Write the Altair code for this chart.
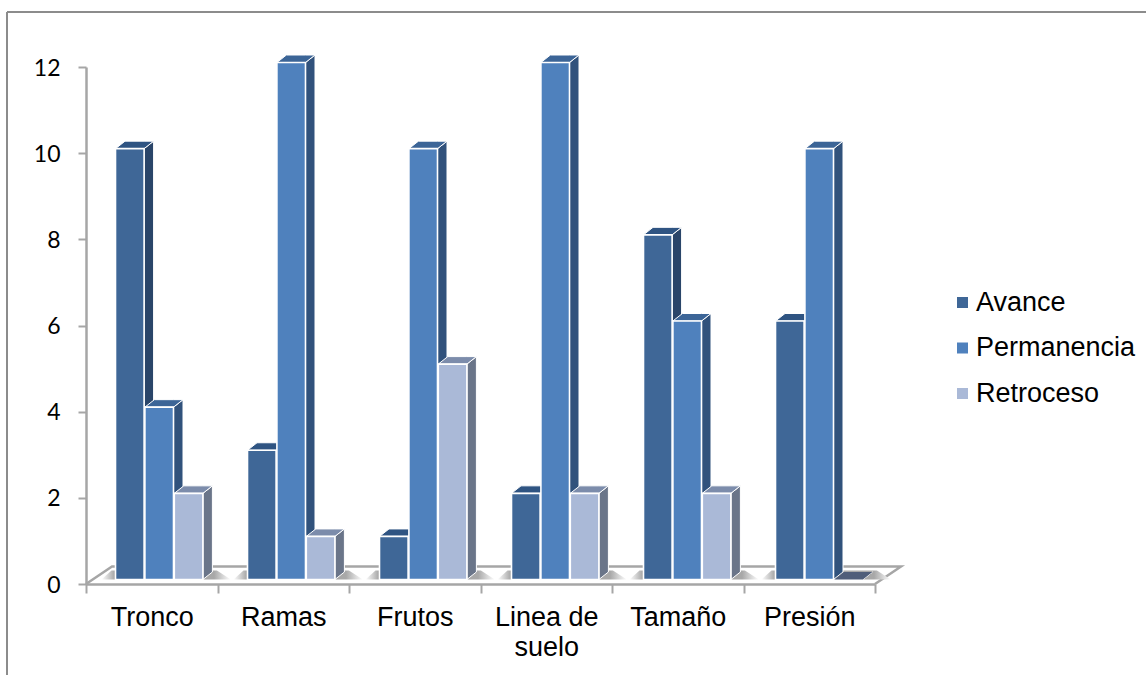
import altair as alt
import pandas as pd

CATEGORIES = ["Tronco", "Ramas", "Frutos", "Linea de suelo", "Tamaño", "Presión"]
SERIES = ["Avance", "Permanencia", "Retroceso"]
AVANCE = [10, 3, 1, 2, 8, 6]
PERMANENCIA = [4, 12, 10, 12, 6, 10]
RETROCESO = [2, 1, 5, 2, 2, 0]
VALUES = [AVANCE, PERMANENCIA, RETROCESO]

FRONT_COLORS = ["#3F6797", "#4F81BD", "#AAB9D7"]
SIDE_COLORS = ["#2A4569", "#31527C", "#6A7589"]
TOP_COLORS = ["#2F5482", "#3C6597", "#7C8CAB"]
EMPTY_BAR_COLOR = "#505E7A"

AXIS_GRAY = "#A6A6A6"
FONT = "Liberation Sans"
NUM_FONT = "Lato"

# Plot-area geometry, and the oblique projection expressed in scale units.
PLOT_W, PLOT_H = 789, 517
PAD = dict(left=86, top=67, right=1146 - 86 - 789, bottom=675 - 67 - 517)
UX, UY = PLOT_W / 6, PLOT_H / 12
BASE = 4.5 / UY            # bars stand slightly behind the axis plane
DX, DY = 9.5 / UX, 7.5 / UY
FLOOR_DX, FLOOR_DY = 26 / UX, 17.5 / UY
GROUP_STEP, FIRST = 132 / UX, 29.5 / UX
BAR_STEP, BAR_W = 29.4 / UX, 28.6 / UX


def bar_span(i, j):
    x0 = i * GROUP_STEP + FIRST + j * BAR_STEP
    return x0, x0 + BAR_W


def front_rows(j):
    rows = []
    for i, cat in enumerate(CATEGORIES):
        x0, x1 = bar_span(i, j)
        v = VALUES[j][i] + BASE
        rows.append(dict(cat=cat, series=SERIES[j], x=x0, x2=x1, y=BASE, y2=v))
    return pd.DataFrame(rows)


def side_rows(j):
    rows = []
    for i, cat in enumerate(CATEGORIES):
        x0, x1 = bar_span(i, j)
        v = VALUES[j][i] + BASE
        rows.append(dict(cat=cat, x=x1, y=BASE, y2=v))
        rows.append(dict(cat=cat, x=x1 + DX, y=BASE + DY, y2=v + DY))
    return pd.DataFrame(rows)


def top_rows(j, empty=False):
    rows = []
    for i, cat in enumerate(CATEGORIES):
        if (VALUES[j][i] == 0) != empty:
            continue
        x0, x1 = bar_span(i, j)
        v = VALUES[j][i] + BASE
        rows.append(dict(cat=cat, x=x0, y=v, y2=v))
        rows.append(dict(cat=cat, x=x0 + DX, y=v, y2=v + DY))
        rows.append(dict(cat=cat, x=x1, y=v, y2=v + DY))
        rows.append(dict(cat=cat, x=x1 + DX, y=v + DY, y2=v + DY))
    return pd.DataFrame(rows, columns=["cat", "x", "y", "y2"])


def shadow_rows():
    rows = []
    for i, cat in enumerate(CATEGORIES):
        x0, _ = bar_span(i, 0)
        _, x1 = bar_span(i, 2)
        h = BASE + 9 / UY
        rows.append(dict(cat=cat, x=x0 - 14 / UX, y=BASE, y2=BASE))
        rows.append(dict(cat=cat, x=x0 - 4 / UX, y=BASE, y2=h))
        rows.append(dict(cat=cat, x=x1 + 14 / UX, y=BASE, y2=h))
        rows.append(dict(cat=cat, x=x1 + 28 / UX, y=BASE, y2=BASE))
    return pd.DataFrame(rows)


y_axis = alt.Axis(
    title=None,
    values=[0, 2, 4, 6, 8, 10, 12],
    labelFont=NUM_FONT,
    labelFontSize=23,
    labelColor="#000000",
    labelPadding=18,
    labelOffset=1,
    domainColor=AXIS_GRAY,
    domainWidth=2.5,
    tickColor=AXIS_GRAY,
    tickWidth=2,
    tickSize=8,
    grid=False,
)
y_scale = alt.Scale(domain=[0, 12], nice=False)

x_q = alt.X("x:Q", scale=alt.Scale(domain=[0, 6], nice=False, zero=False), axis=None)
y_q = alt.Y("y:Q", scale=y_scale, axis=y_axis, stack=None)

# Band scale that carries the category axis with ticks at the band edges.
axis_layer = (
    alt.Chart(pd.DataFrame({"cat": CATEGORIES, "y": [0] * 6}))
    .mark_tick(opacity=0)
    .encode(
        x=alt.X(
            "cat:N",
            sort=CATEGORIES,
            title=None,
            scale=alt.Scale(paddingInner=0, paddingOuter=0),
            axis=alt.Axis(
                tickBand="extent",
                labelAngle=0,
                labelFont=FONT,
                labelFontSize=27,
                labelColor="#000000",
                labelPadding=11,
                labelLineHeight=30,
                labelExpr="datum.label == 'Linea de suelo' ? ['Linea de', 'suelo'] : datum.label",
                domainColor=AXIS_GRAY,
                domainWidth=2.5,
                tickColor=AXIS_GRAY,
                tickWidth=2,
                tickSize=9,
                grid=False,
            ),
        ),
        y=y_q,
    )
)

# Outer frame of the figure, open on the right and at the bottom.
frame_top = alt.Chart(pd.DataFrame({"a": [0]})).mark_rule(color="#8C8C8C", strokeWidth=2).encode(
    x=alt.value(-79), x2=alt.value(1060), y=alt.value(-55)
)
frame_left = alt.Chart(pd.DataFrame({"a": [0]})).mark_rule(color="#8C8C8C", strokeWidth=2).encode(
    x=alt.value(-79), y=alt.value(-55), y2=alt.value(608)
)

# Floor outline behind the bars.
floor = alt.Chart(
    pd.DataFrame(
        {
            "x": [0, FLOOR_DX, 6 + FLOOR_DX, 6],
            "y": [0, FLOOR_DY, FLOOR_DY, 0],
            "o": [0, 1, 2, 3],
        }
    )
).mark_line(color=AXIS_GRAY, strokeWidth=2.5).encode(x=x_q, y=y_q, order="o:Q")

shadow = alt.Chart(shadow_rows()).mark_area(
    color=alt.LinearGradient(
        gradient="linear",
        x1=0,
        x2=1,
        y1=0,
        y2=0,
        stops=[
            alt.GradientStop(color="#FFFFFF", offset=0),
            alt.GradientStop(color="#A8A8A8", offset=0.1),
            alt.GradientStop(color="#A8A8A8", offset=0.87),
            alt.GradientStop(color="#FFFFFF", offset=1),
        ],
    )
).encode(x=x_q, y=y_q, y2="y2:Q", detail="cat:N")

layers = [axis_layer, frame_top, frame_left, floor, shadow]

legend = alt.Legend(
    orient="none",
    legendX=863,
    legendY=222,
    title=None,
    symbolType="square",
    symbolSize=121,
    symbolStrokeWidth=0,
    labelFont=FONT,
    labelFontSize=27,
    labelColor="#000000",
    labelOffset=0,
    rowPadding=17.5,
    padding=0,
)

# Each series is painted in turn so a bar's front covers its neighbour's side.
for j in range(3):
    side = alt.Chart(side_rows(j)).mark_area(
        color=SIDE_COLORS[j], stroke="#FFFFFF", strokeWidth=1
    ).encode(x=x_q, y=y_q, y2="y2:Q", detail="cat:N")
    top = alt.Chart(top_rows(j)).mark_area(
        color=TOP_COLORS[j], stroke="#FFFFFF", strokeWidth=1
    ).encode(x=x_q, y=y_q, y2="y2:Q", detail="cat:N")
    front = alt.Chart(front_rows(j)).mark_rect(stroke="#FFFFFF", strokeWidth=1.6).encode(
        x=x_q,
        x2="x2:Q",
        y=y_q,
        y2="y2:Q",
        color=alt.Color(
            "series:N",
            scale=alt.Scale(domain=SERIES, range=FRONT_COLORS),
            legend=legend,
        ),
    )
    layers += [side, top, front]

# A bar of value zero shows only its cap, lying flat and in shade.
empty_tops = top_rows(2, empty=True)
layers.append(
    alt.Chart(empty_tops).mark_area(color=EMPTY_BAR_COLOR).encode(
        x=x_q, y=y_q, y2="y2:Q", detail="cat:N"
    )
)

chart = (
    alt.layer(*layers)
    .resolve_scale(x="independent")
    .properties(
        width=PLOT_W,
        height=PLOT_H,
        padding=PAD,
        autosize=alt.AutoSizeParams(type="none"),
        background="#FFFFFF",
    )
    .configure_view(stroke=None)
)

chart.save("out.html", embed_options={"renderer": "svg", "actions": False})
